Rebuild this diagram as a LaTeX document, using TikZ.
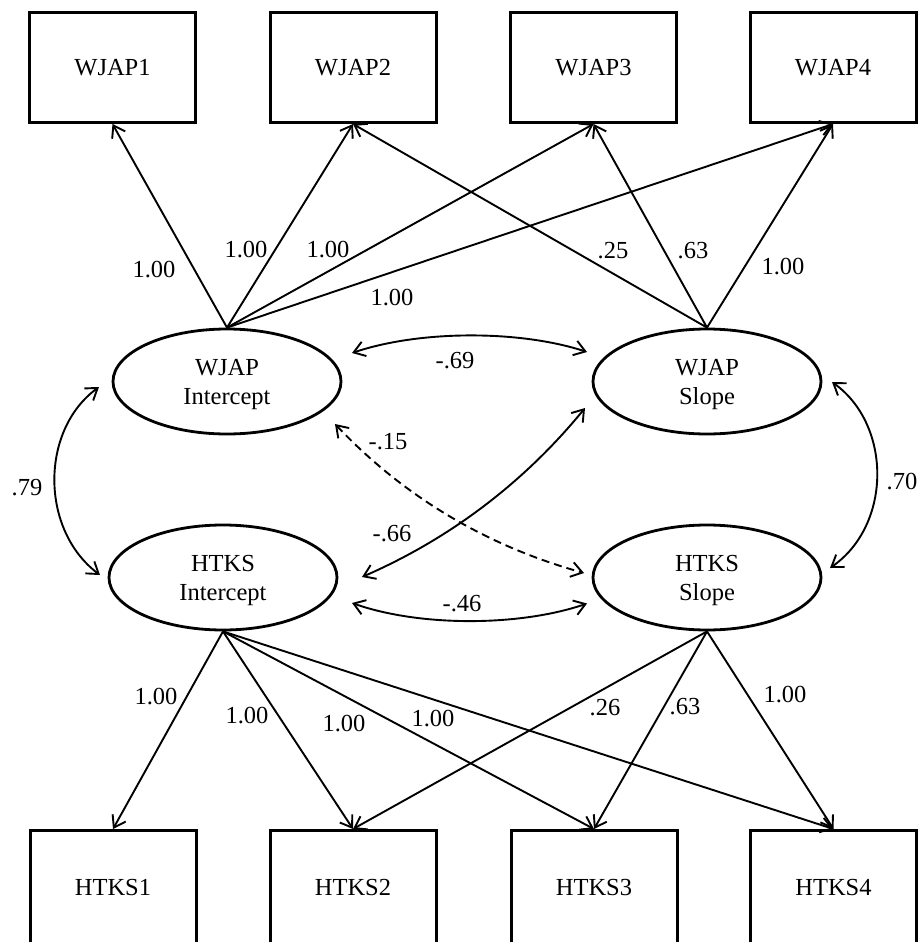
\documentclass[tikz,border=0pt]{standalone}
\usepackage{fontspec}
\setmainfont{Liberation Serif}
\usetikzlibrary{shapes.geometric,arrows.meta,calc}
\begin{document}
\begin{tikzpicture}[x=1pt,y=-1pt,
  font=\fontsize{24.5}{29}\selectfont,
  obs/.style={draw,line width=3pt,minimum width=166pt,minimum height=110pt,inner sep=0pt,text depth=0pt},
  obsb/.style={obs,minimum height=114pt},
  lat/.style={draw,ellipse,line width=2.8pt,minimum width=228pt,minimum height=105pt,inner sep=0pt,align=center,text depth=-6pt},
  ld/.style={line width=1.9pt,-{Straight Barb[length=11pt,width=15pt]}},
  cov/.style={line width=1.9pt,{Straight Barb[length=11pt,width=15pt]}-{Straight Barb[length=11pt,width=15pt]}},
  lab/.style={inner sep=0pt,text depth=0pt}]
\useasboundingbox (0,0) rectangle (919,942);
% observed
\node[obs] (w1) at (112.5,67.5) {WJAP1};
\node[obs] (w2) at (353,67.5) {WJAP2};
\node[obs] (w3) at (593.5,67.5) {WJAP3};
\node[obs] (w4) at (833,67.5) {WJAP4};
\node[obsb] (h1) at (113,887.5) {HTKS1};
\node[obsb] (h2) at (353,887.5) {HTKS2};
\node[obsb] (h3) at (594,887.5) {HTKS3};
\node[obsb] (h4) at (833.5,887.5) {HTKS4};
% latent
\node[lat] (wi) at (227,381.5) {WJAP\\Intercept};
\node[lat] (ws) at (707,381.5) {WJAP\\Slope};
\node[lat] (hi) at (223,577.5) {HTKS\\Intercept};
\node[lat] (hs) at (707,577.5) {HTKS\\Slope};
% loadings WJAP
\draw[ld] (wi.north) -- (w1.south);
\draw[ld] (wi.north) -- (w2.south);
\draw[ld] (wi.north) -- (w3.south);
\draw[ld] (wi.north) -- (w4.south);
\draw[ld] (ws.north) -- (w2.south);
\draw[ld] (ws.north) -- (w3.south);
\draw[ld] (ws.north) -- (w4.south);
% loadings HTKS
\draw[ld] (hi.south) -- (h1.north);
\draw[ld] (hi.south) -- (h2.north);
\draw[ld] (hi.south) -- (h3.north);
\draw[ld] (hi.south) -- (h4.north);
\draw[ld] (hs.south) -- (h2.north);
\draw[ld] (hs.south) -- (h3.north);
\draw[ld] (hs.south) -- (h4.north);
% covariances
\draw[cov] ($(wi)+(125,-28.5)$) .. controls +(68,-23) and +(-67,-22) .. ($(ws)+(-120,-29.5)$);
\draw[cov] ($(hi)+(129,25.5)$) .. controls +(68,24) and +(-67,23) .. ($(hs)+(-120,26)$);
\draw[cov] ($(wi)+(-128,5.5)$) .. controls +(-59,43) and +(-60,-45) .. ($(hi)+(-123,-2.5)$);
\draw[cov] ($(ws)+(125,0.5)$) .. controls +(60,43) and +(62,-43) .. ($(hs)+(123,-9.5)$);
\draw[cov] ($(hi)+(139,-0.5)$) .. controls +(88,-38.3) and +(-60.7,74.3) .. ($(ws)+(-122,26.5)$);
\draw[cov,dash pattern=on 8pt off 5pt] ($(wi)+(108,42.5)$) .. controls +(69,73) and +(-97,-27) .. ($(hs)+(-123,-4.5)$);
% labels
\node[lab] (l1) at (154,269) {1.00};
\node[lab] (l2) at (246,249.5) {1.00};
\node[lab] (l3) at (328,249.5) {1.00};
\node[lab] (l4) at (392,297) {1.00};
\node[lab] (l5) at (613,250.5) {.25};
\node[lab] (l6) at (693,250) {.63};
\node[lab] (l7) at (783,266) {1.00};
\node[lab] (m1) at (156,696) {1.00};
\node[lab] (m2) at (247,715.5) {1.00};
\node[lab] (m3) at (344,723) {1.00};
\node[lab] (m4) at (433,718.5) {1.00};
\node[lab] (m5) at (605,707.5) {.26};
\node[lab] (m6) at (685,706) {.63};
\node[lab] (m7) at (785,694) {1.00};
\node[lab] (c1) at (455,360) {-.69};
\node[lab] (c2) at (462,603) {-.46};
\node[lab] (c3) at (27,487) {.79};
\node[lab] (c4) at (902,481) {.70};
\node[lab] (c5) at (392,533) {-.66};
\node[lab] (c6) at (388,441) {-.15};
\end{tikzpicture}
\end{document}
